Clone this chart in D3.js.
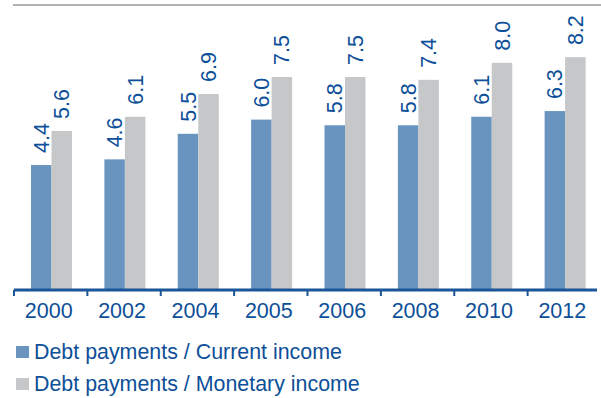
<!DOCTYPE html>
<html><head><meta charset="utf-8">
<script src="https://cdn.jsdelivr.net/npm/d3@7"></script>
<style>body{margin:0;background:#fff}svg{display:block}</style>
</head><body>
<div id="chart"></div>
<script>
const years = ["2000","2002","2004","2005","2006","2008","2010","2012"];
const currentIncome = [4.4,4.6,5.5,6.0,5.8,5.8,6.1,6.3];
const monetaryIncome = [5.6,6.1,6.9,7.5,7.5,7.4,8.0,8.2];
const seriesNames = ["Debt payments / Current income","Debt payments / Monetary income"];
const colors = ["#6894bf","#c6c7c9"];
const textColor = "#0d4f98";

const W=601,H=398;
const svg=d3.select("#chart").append("svg").attr("width",W).attr("height",H);
const font="'Liberation Sans', Arial, sans-serif";

svg.append("line").attr("x1",13).attr("x2",601).attr("y1",5).attr("y2",5)
  .attr("stroke","#b3b3b3").attr("stroke-width",2);

const x=d3.scaleBand().domain(years).range([14,601]).paddingInner(0).paddingOuter(0);
const y=d3.scaleLinear().domain([0,10]).range([290,6]);
const bw=20.5, off=17;

const data=years.map((yr,i)=>({yr,vals:[currentIncome[i],monetaryIncome[i]]}));
const g=svg.append("g");
data.forEach(d=>{
  d.vals.forEach((v,j)=>{
    const bx=x(d.yr)+off+j*bw;
    g.append("rect").attr("x",bx).attr("y",y(v)).attr("width",bw).attr("height",y(0)-y(v))
      .attr("fill",colors[j]);
    const cx=bx+bw/2, ty=y(v)-12;
    g.append("text").attr("transform",`translate(${cx+7.5},${ty}) rotate(-90)`)
      .attr("font-family",font).attr("font-size",21.5).attr("fill",textColor)
      .attr("text-anchor","start").text(v.toFixed(1));
  });
});

// axis
const ax=svg.append("g").attr("transform","translate(0,290)");
ax.append("line").attr("x1",14).attr("x2",597).attr("y1",0).attr("y2",0)
  .attr("stroke","#1a5597").attr("stroke-width",3);
const ticks=years.map(yr=>x(yr));
ax.selectAll("line.t").data(ticks).enter().append("line").attr("class","t")
  .attr("x1",d=>d).attr("x2",d=>d).attr("y1",0).attr("y2",6)
  .attr("stroke","#1a5597").attr("stroke-width",2);
ax.selectAll("text").data(years).enter().append("text")
  .attr("x",d=>x(d)+x.bandwidth()/2-2).attr("y",28)
  .attr("text-anchor","middle").attr("font-family",font).attr("font-size",21.5)
  .attr("fill",textColor).text(d=>d);

// legend
seriesNames.forEach((n,i)=>{
  const ly=346+i*32;
  svg.append("rect").attr("x",16).attr("y",ly).attr("width",13).attr("height",12).attr("fill",colors[i]);
  svg.append("text").attr("x",34).attr("y",ly+13).attr("font-family",font).attr("font-size",21.4)
    .attr("fill",textColor).text(n);
});
</script>
</body></html>
